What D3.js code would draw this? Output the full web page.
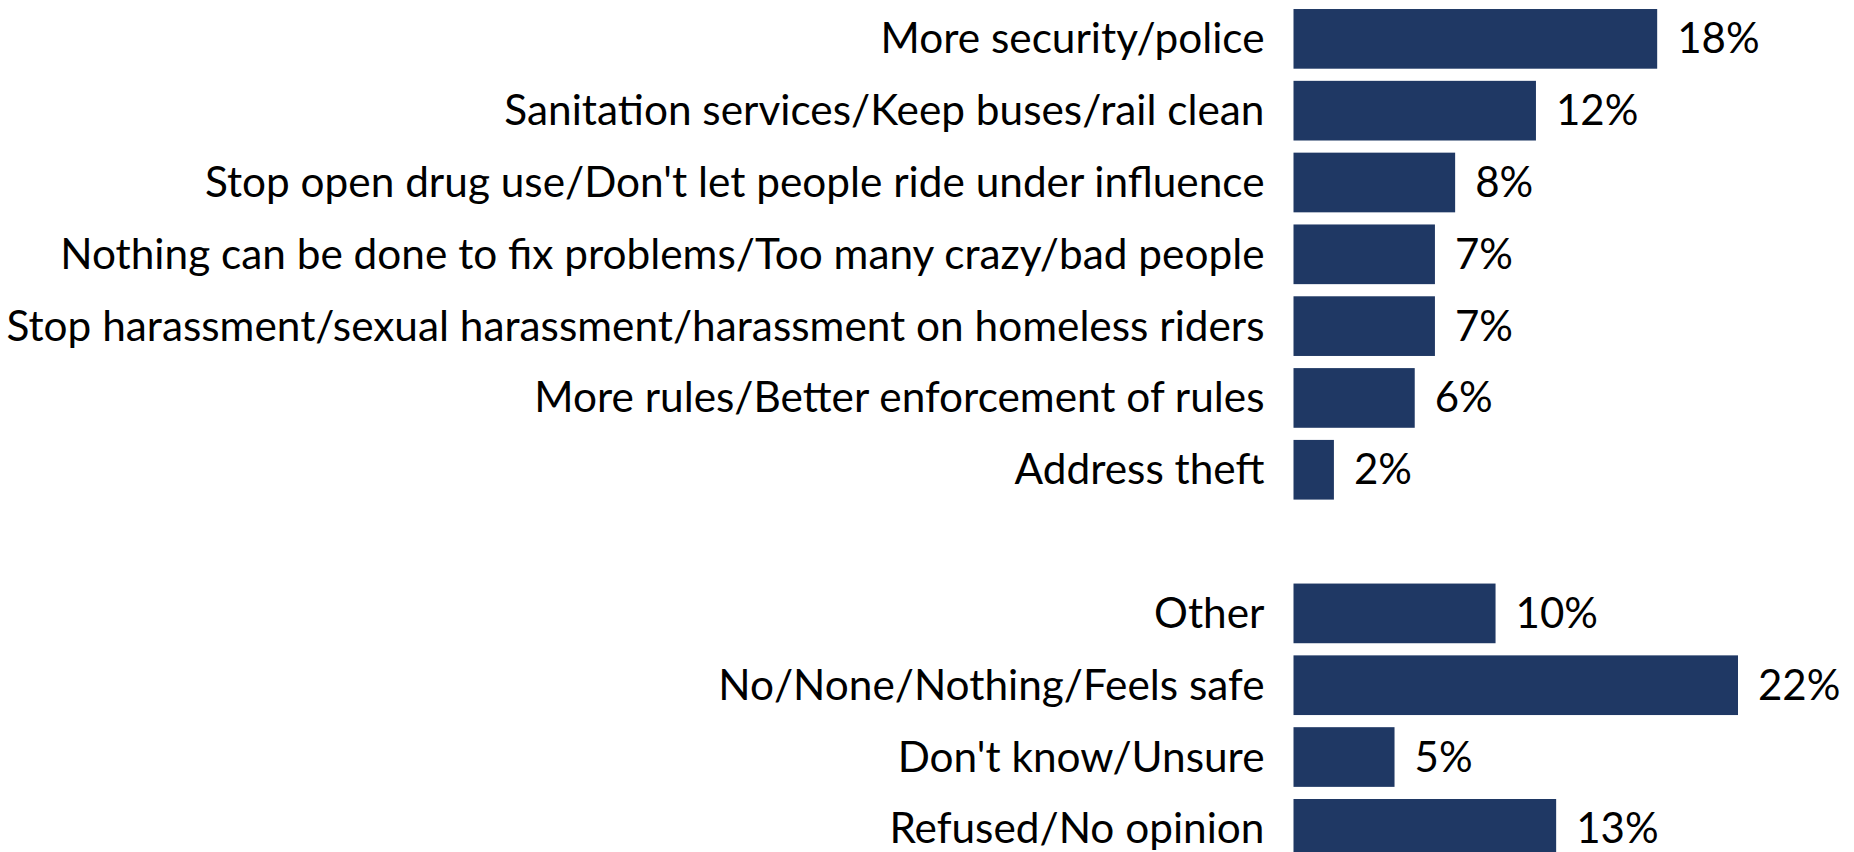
<!DOCTYPE html>
<html><head><meta charset="utf-8">
<script src="https://cdn.jsdelivr.net/npm/d3@7"></script>
<style>html,body{margin:0;padding:0;background:#fff;overflow:hidden}</style>
</head><body>
<svg id="c" width="1854" height="852"></svg>
<script>
const categories = [
  "More security/police",
  "Sanitation services/Keep buses/rail clean",
  "Stop open drug use/Don't let people ride under influence",
  "Nothing can be done to fix problems/Too many crazy/bad people",
  "Stop harassment/sexual harassment/harassment on homeless riders",
  "More rules/Better enforcement of rules",
  "Address theft",
  "Other",
  "No/None/Nothing/Feels safe",
  "Don't know/Unsure",
  "Refused/No opinion"
];
const values = [18, 12, 8, 7, 7, 6, 2, 10, 22, 5, 13];
const valueLabels = ["18%", "12%", "8%", "7%", "7%", "6%", "2%", "10%", "22%", "5%", "13%"];
const gapAfter = 7;

const barColor = "#1F3864";
const fontFamily = "Lato, 'Open Sans', sans-serif";
const fontSize = 42;

const svg = d3.select("#c");
const domain = categories.slice(0, gapAfter).concat(["__gap__"], categories.slice(gapAfter));

const y = d3.scaleBand().domain(domain).range([2.95, 2.95 + 861.8]).paddingInner(0.169).paddingOuter(0.0845);
const x = d3.scaleLinear().domain([0, 22]).range([1293.5, 1738]);

const data = categories.map((c, i) => ({c, v: values[i], l: valueLabels[i]}));

svg.selectAll("rect.bar").data(data).join("rect")
  .attr("class", "bar")
  .attr("x", x(0))
  .attr("y", d => y(d.c))
  .attr("width", d => x(d.v) - x(0))
  .attr("height", y.bandwidth())
  .attr("fill", barColor);

const cat = svg.selectAll("text.cat").data(data).join("text")
  .attr("class", "cat")
  .attr("x", x(0) - 29)
  .attr("y", d => y(d.c) + y.bandwidth() / 2 + 14.5)
  .attr("text-anchor", "end")
  .attr("font-family", fontFamily)
  .attr("font-size", fontSize)
  .attr("fill", "#000")
  .text(d => d.c);

// horizontal fit to reference width of longest label
const nodes = cat.nodes();
const lens = nodes.map(n => n.getComputedTextLength());
const longest = d3.max(lens);
const ratio = 1258 / longest;
cat.each(function(d, i) {
  d3.select(this).attr("textLength", lens[i] * ratio).attr("lengthAdjust", "spacingAndGlyphs");
});

svg.selectAll("text.val").data(data).join("text")
  .attr("class", "val")
  .attr("x", d => x(d.v) + 20)
  .attr("y", d => y(d.c) + y.bandwidth() / 2 + 14.5)
  .attr("font-family", fontFamily)
  .attr("font-size", fontSize)
  .attr("fill", "#000")
  .text(d => d.l);
</script>
</body></html>
